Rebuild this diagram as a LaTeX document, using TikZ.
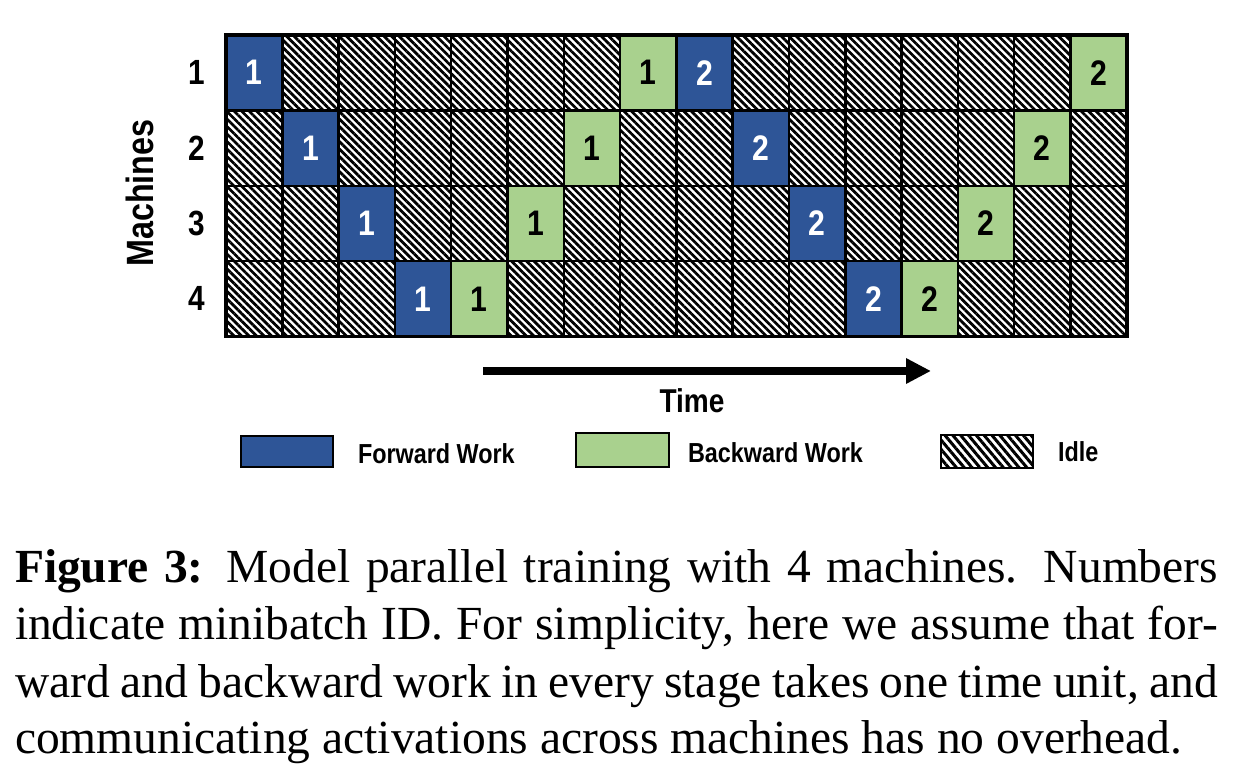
\documentclass[tikz,border=0pt]{standalone}
\usepackage{fontspec}
\setmainfont{Liberation Serif}
\newfontfamily\labfont{Liberation Sans}[FakeStretch=0.85]
\usetikzlibrary{patterns.meta,arrows.meta}
\definecolor{fwdblue}{RGB}{46,85,151}
\definecolor{bwdgreen}{RGB}{169,209,142}
\tikzset{
  cellbox/.style={minimum width=11.26pt,minimum height=15.08pt,inner sep=0pt,draw=none,
     font=\labfont\bfseries\fontsize{7.1pt}{7.5pt}\selectfont},
  fwd/.style={cellbox,fill=fwdblue,text=white},
  bwd/.style={cellbox,fill=bwdgreen,text=black},
  idle/.style={pattern={Lines[angle=-45,distance=1.06pt,line width=0.55pt]},pattern color=black},
  gridline/.style={line width=0.5pt,black},
  rowlab/.style={font=\labfont\bfseries\fontsize{7pt}{7.5pt}\selectfont,inner sep=0pt},
  legtext/.style={font=\labfont\bfseries\fontsize{5.5pt}{6pt}\selectfont,inner sep=0pt,anchor=base west},
  legbox/.style={draw=black,line width=0.3pt},
  capline/.style={font=\fontsize{9.5pt}{11.4pt}\selectfont,inner sep=0pt,anchor=base west}
}
\begin{document}
\begin{tikzpicture}[x=0.2pt,y=-0.2pt]
\useasboundingbox (0,0) rectangle (1239,784);
\fill[white] (0,0) rectangle (1239,784);
% idle background of the grid
\fill[idle] (226,35) rectangle (1126.8,336.6);
% worked cells
\foreach \r/\c/\s/\t [count=\i] in {
  1/1/fwd/1, 1/8/bwd/1, 1/9/fwd/2, 1/16/bwd/2,
  2/2/fwd/1, 2/7/bwd/1, 2/10/fwd/2, 2/15/bwd/2,
  3/3/fwd/1, 3/6/bwd/1, 3/11/fwd/2, 3/14/bwd/2,
  4/4/fwd/1, 4/5/bwd/1, 4/12/fwd/2, 4/13/bwd/2} {
  \node[\s] (cell\i) at ({226+56.3*(\c-0.5)},{35+75.4*(\r-0.5)}) {\t};
}
% grid lines
\foreach \c in {1,...,15} \draw[gridline] ({226+56.3*\c},35) -- ({226+56.3*\c},336.6);
\foreach \r in {1,2,3} \draw[gridline] (226,{35+75.4*\r}) -- (1126.8,{35+75.4*\r});
\draw[line width=0.7pt] (226,35) rectangle (1126.8,336.6);
% row labels
\foreach \r in {1,...,4} \node[rowlab] (m\r) at (197,{35+75.4*(\r-0.5)}) {\r};
\node[rowlab,font=\labfont\bfseries\fontsize{7.6pt}{8pt}\selectfont,rotate=90] (machines) at (140,193) {Machines};
% time arrow
\coordinate (tstart) at (483,371);
\coordinate (tend) at (931,371);
\draw[line width=1.6pt,-{Triangle[length=5pt,width=4.8pt]}] (tstart) -- (tend);
\node[font=\labfont\bfseries\fontsize{6.6pt}{7pt}\selectfont,inner sep=0pt,anchor=base] (time) at (692,413) {Time};
% legend
\filldraw[legbox,fill=fwdblue] (241,436) rectangle (333,467);
\node[legtext] (lf) at (357,464) {Forward Work};
\filldraw[legbox,fill=bwdgreen] (576,433) rectangle (669,467);
\node[legtext] (lb) at (687,463) {Backward Work};
\fill[white] (941,435) rectangle (1033,468);
\fill[pattern={Lines[angle=-50,distance=1.2pt,line width=0.6pt]},pattern color=black] (941,435) rectangle (1033,468);
\draw[legbox] (941,435) rectangle (1033,468);
\node[legtext] (li) at (1057,462) {Idle};
% caption
\node[capline] (c1) at (14,583) {\makebox[240.6pt][s]{\textbf{Figure 3:} Model parallel training with 4 machines. Numbers}};
\node[capline] (c2) at (14,640) {\makebox[240.6pt][s]{indicate minibatch ID. For simplicity, here we assume that for-}};
\node[capline] (c3) at (14,697) {\makebox[240.6pt][s]{ward and backward work in every stage takes one time unit, and}};
\node[capline] (c4) at (14,753) {communicating activations across machines has no overhead.};
\end{tikzpicture}
\end{document}
